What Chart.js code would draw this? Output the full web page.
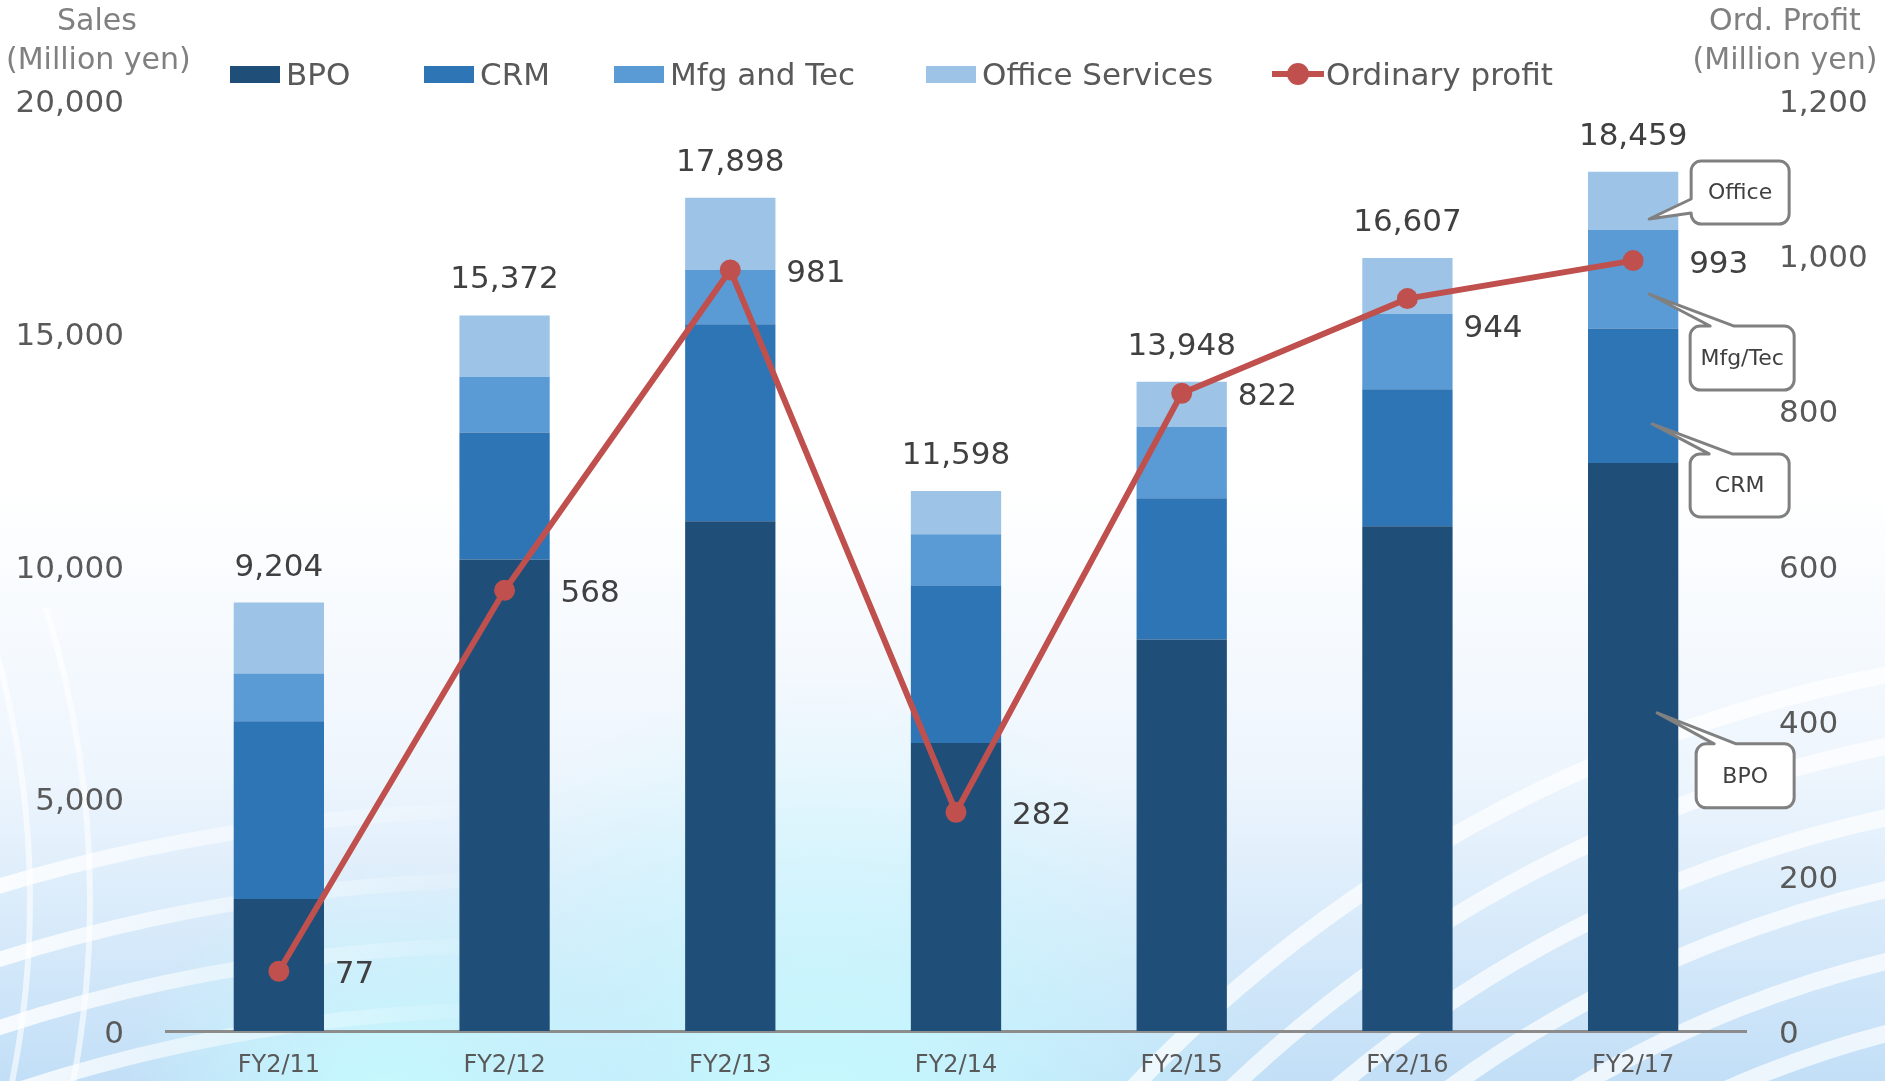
<!DOCTYPE html>
<html>
<head>
<meta charset="utf-8">
<script src="https://cdn.jsdelivr.net/npm/chart.js@4/dist/chart.umd.min.js"></script>
<style>
  body { margin: 0; background: #fff; font-family: 'DejaVu Sans', Verdana, sans-serif; }
  #wrap { position: relative; width: 1885px; height: 1081px; overflow: hidden; }
  #chart { position: absolute; left: 0; top: 0; }
  .axis-title { position: absolute; color: #808080; font-size: 30px; line-height: 39px; text-align: center; white-space: nowrap; }
  .legend-item { position: absolute; top: 56px; height: 36px; display: flex; align-items: center; font-size: 31px; color: #595959; white-space: nowrap; }
  .swatch { width: 50px; height: 17px; margin-right: 6px; }
  .line-key { position: relative; width: 52px; height: 6px; background: #c0504d; margin-right: 2px; }
  .line-key span { position: absolute; left: 15px; top: -8px; width: 22px; height: 22px; border-radius: 50%; background: #c0504d; }
</style>
</head>
<body>
<div id="wrap">
  <canvas id="chart" width="1885" height="1081"></canvas>
  <div class="axis-title" style="left:6px;top:0;width:182px;">Sales<br>(Million yen)</div>
  <div class="axis-title" style="left:1690px;top:0;width:190px;">Ord. Profit<br>(Million yen)</div>
  <div id="legend"></div>
</div>
<script>
const years = ['FY2/11', 'FY2/12', 'FY2/13', 'FY2/14', 'FY2/15', 'FY2/16', 'FY2/17'];
const bpo = [2838, 10128, 10948, 6188, 8410, 10843, 12204];
const crm = [3814, 2727, 4232, 3373, 3032, 2941, 2888];
const mfgTec = [1026, 1200, 1168, 1108, 1537, 1619, 2113];
const officeServices = [1526, 1317, 1550, 929, 969, 1204, 1254];
const salesTotal = [9204, 15372, 17898, 11598, 13948, 16607, 18459];
const ordinaryProfit = [77, 568, 981, 282, 822, 944, 993];
const salesTicks = [0, 5000, 10000, 15000, 20000];
const profitTicks = [0, 200, 400, 600, 800, 1000, 1200];

const segNames = ['BPO', 'CRM', 'Mfg and Tec', 'Office Services'];
const segColors = ['#1f4e79', '#2e75b6', '#5b9bd5', '#9dc3e6'];
const profitColor = '#c0504d';

// legend (html)
const legendLeft = [230, 424, 614, 926];
const legend = document.getElementById('legend');
segNames.forEach((n, i) => {
  const d = document.createElement('div');
  d.className = 'legend-item';
  d.style.left = legendLeft[i] + 'px';
  d.innerHTML = '<div class="swatch" style="background:' + segColors[i] + '"></div>' + n;
  legend.appendChild(d);
});
const lk = document.createElement('div');
lk.className = 'legend-item';
lk.style.left = '1272px';
lk.innerHTML = '<div class="line-key"><span></span></div>Ordinary profit';
legend.appendChild(lk);

Chart.defaults.font.family = "'DejaVu Sans', Verdana, sans-serif";
Chart.defaults.color = '#595959';

const fmt = v => v.toLocaleString('en-US');

function band(ctx, cx, cy, rad, a0, a1) {
  ctx.beginPath(); ctx.arc(cx, cy, rad, a0, a1); ctx.stroke();
}

const bgPlugin = {
  id: 'bg',
  beforeDraw(c) {
    const ctx = c.ctx, W = c.width, H = c.height;
    ctx.save();
    const g = ctx.createLinearGradient(0, 0, 0, H);
    g.addColorStop(0, '#ffffff');
    g.addColorStop(0.45, '#ffffff');
    g.addColorStop(0.72, '#edf5fd');
    g.addColorStop(1, '#c2dff7');
    ctx.fillStyle = g;
    ctx.fillRect(0, 0, W, H);
    [[820, 1140, 460], [380, 1120, 260]].forEach(([x, y, rr]) => {
      const r = ctx.createRadialGradient(x, y, 10, x, y, rr);
      r.addColorStop(0, 'rgba(198,252,255,0.95)');
      r.addColorStop(1, 'rgba(198,252,255,0)');
      ctx.fillStyle = r;
      ctx.fillRect(0, 600, W, H - 600);
    });
    // right swirl
    ctx.strokeStyle = 'rgba(255,255,255,0.7)';
    ctx.lineWidth = 17;
    [1050, 1120, 1190, 1260, 1330, 1400].forEach(rad => band(ctx, 2150, 2050, rad, Math.PI, 1.5 * Math.PI));
    // left swirl, fading out to the right
    const fade = ctx.createLinearGradient(0, 0, 520, 0);
    fade.addColorStop(0, 'rgba(255,255,255,0.85)');
    fade.addColorStop(1, 'rgba(255,255,255,0)');
    ctx.strokeStyle = fade;
    ctx.lineWidth = 15;
    [1600, 1665, 1730, 1800].forEach(rad => band(ctx, 517, 2610, rad, 4.3, 4.7));
    ctx.lineWidth = 6;
    ctx.strokeStyle = 'rgba(255,255,255,0.6)';
    [930, 990].forEach(rad => band(ctx, -900, 900, rad, -0.3, 0.3));
    ctx.restore();
  }
};

const labelPlugin = {
  id: 'labels',
  afterDatasetsDraw(c) {
    const ctx = c.ctx;
    ctx.save();
    ctx.font = "31px 'DejaVu Sans', Verdana, sans-serif";
    ctx.fillStyle = '#404040';
    ctx.textBaseline = 'middle';
    // totals above bars
    const top = c.getDatasetMeta(3).data;
    ctx.textAlign = 'center';
    top.forEach((b, i) => ctx.fillText(fmt(salesTotal[i]), b.x, b.y - 35));
    // profit labels
    const pts = c.getDatasetMeta(4).data;
    ctx.textAlign = 'left';
    pts.forEach((p, i) => {
      let ly = p.y + 4;
      const nx = pts[i + 1];
      if (nx) {
        const lx = p.x + 80;
        const lineY = p.y + (nx.y - p.y) * (lx - p.x) / (nx.x - p.x);
        if (Math.abs(lineY - ly) < 24) ly = p.y + 30;
      }
      ctx.fillText(fmt(ordinaryProfit[i]), p.x + 56, ly);
    });
    ctx.restore();
  }
};

// callouts on last bar
const callouts = [
  { ds: 3, text: 'Office', frac: 0.81, tx: 16, dx: 42, dy: -58, w: 98, h: 63, edge: 'left', a: 38, b: 52 },
  { ds: 2, text: 'Mfg/Tec', frac: 0.65, tx: 16, dx: 41, dy: 32, w: 104, h: 64, edge: 'top', a: 20, b: 44 },
  { ds: 1, text: 'CRM', frac: 0.71, tx: 19, dx: 38, dy: 30, w: 99, h: 63, edge: 'top', a: 19, b: 42 },
  { ds: 0, text: 'BPO', frac: 0.44, tx: 24, dx: 39, dy: 31, w: 98, h: 64, edge: 'top', a: 18, b: 40 }
];

function calloutPath(ctx, x, y, w, h, r, tip, edge, a, b) {
  ctx.beginPath();
  ctx.moveTo(x + r, y);
  if (edge === 'top') { ctx.lineTo(x + a, y); ctx.lineTo(tip.x, tip.y); ctx.lineTo(x + b, y); }
  ctx.lineTo(x + w - r, y);
  ctx.arcTo(x + w, y, x + w, y + r, r);
  ctx.lineTo(x + w, y + h - r);
  ctx.arcTo(x + w, y + h, x + w - r, y + h, r);
  ctx.lineTo(x + r, y + h);
  ctx.arcTo(x, y + h, x, y + h - r, r);
  if (edge === 'left') { ctx.lineTo(x, y + b); ctx.lineTo(tip.x, tip.y); ctx.lineTo(x, y + a); }
  ctx.lineTo(x, y + r);
  ctx.arcTo(x, y, x + r, y, r);
  ctx.closePath();
}

const calloutPlugin = {
  id: 'callouts',
  afterDraw(c) {
    const ctx = c.ctx;
    ctx.save();
    callouts.forEach(co => {
      const bar = c.getDatasetMeta(co.ds).data[years.length - 1];
      const tip = { x: bar.x + co.tx, y: bar.y + (bar.base - bar.y) * co.frac };
      const x = tip.x + co.dx, y = tip.y + co.dy;
      calloutPath(ctx, x, y, co.w, co.h, 10, tip, co.edge, co.a, co.b);
      ctx.fillStyle = '#ffffff';
      ctx.fill();
      ctx.lineWidth = 3;
      ctx.lineJoin = 'round';
      ctx.strokeStyle = '#808080';
      ctx.stroke();
      ctx.fillStyle = '#404040';
      ctx.font = "22px 'DejaVu Sans', Verdana, sans-serif";
      ctx.textAlign = 'center';
      ctx.textBaseline = 'middle';
      ctx.fillText(co.text, x + co.w / 2, y + co.h / 2 + 1);
    });
    ctx.restore();
  }
};

const barSets = [bpo, crm, mfgTec, officeServices].map((d, i) => ({
  type: 'bar',
  label: segNames[i],
  data: d,
  backgroundColor: segColors[i],
  borderWidth: 0,
  stack: 'sales',
  yAxisID: 'y',
  order: 1,
  barPercentage: 0.4,
  categoryPercentage: 1.0
}));

// side axes: fixed width, and no extra top/bottom padding from the tick padding
const fixSide = w => s => { s.width = w; s.paddingTop = 0; s.paddingBottom = 0; };

new Chart(document.getElementById('chart'), {
  data: {
    labels: years,
    datasets: [...barSets, {
      type: 'line',
      label: 'Ordinary profit',
      data: ordinaryProfit,
      yAxisID: 'y1',
      borderColor: profitColor,
      backgroundColor: profitColor,
      borderWidth: 6,
      pointRadius: 10.5,
      pointBackgroundColor: profitColor,
      pointBorderWidth: 0,
      tension: 0,
      order: 0
    }]
  },
  options: {
    responsive: false,
    animation: false,
    layout: { padding: { top: 100, left: 0, right: 0, bottom: 0 } },
    plugins: { legend: { display: false }, tooltip: { enabled: false } },
    scales: {
      x: {
        stacked: true,
        grid: { display: false, drawTicks: false },
        border: { display: true, color: '#8c8c8c', width: 3 },
        ticks: { font: { size: 24 }, color: '#595959', padding: 20 },
        afterFit: s => { s.height = 50; }
      },
      y: {
        stacked: true,
        position: 'left',
        min: 0, max: salesTicks[salesTicks.length - 1],
        afterBuildTicks: s => { s.ticks = salesTicks.map(v => ({ value: v })); },
        grid: { display: false, drawTicks: false },
        border: { display: false },
        ticks: { font: { size: 31 }, color: '#595959', padding: 42, labelOffset: 4, callback: v => fmt(v) },
        afterFit: fixSide(166)
      },
      y1: {
        position: 'right',
        min: 0, max: profitTicks[profitTicks.length - 1],
        afterBuildTicks: s => { s.ticks = profitTicks.map(v => ({ value: v })); },
        grid: { display: false, drawTicks: false },
        border: { display: false },
        ticks: { font: { size: 31 }, color: '#595959', padding: 33, labelOffset: 4, callback: v => fmt(v) },
        afterFit: fixSide(139)
      }
    }
  },
  plugins: [bgPlugin, labelPlugin, calloutPlugin]
});
</script>
</body>
</html>
